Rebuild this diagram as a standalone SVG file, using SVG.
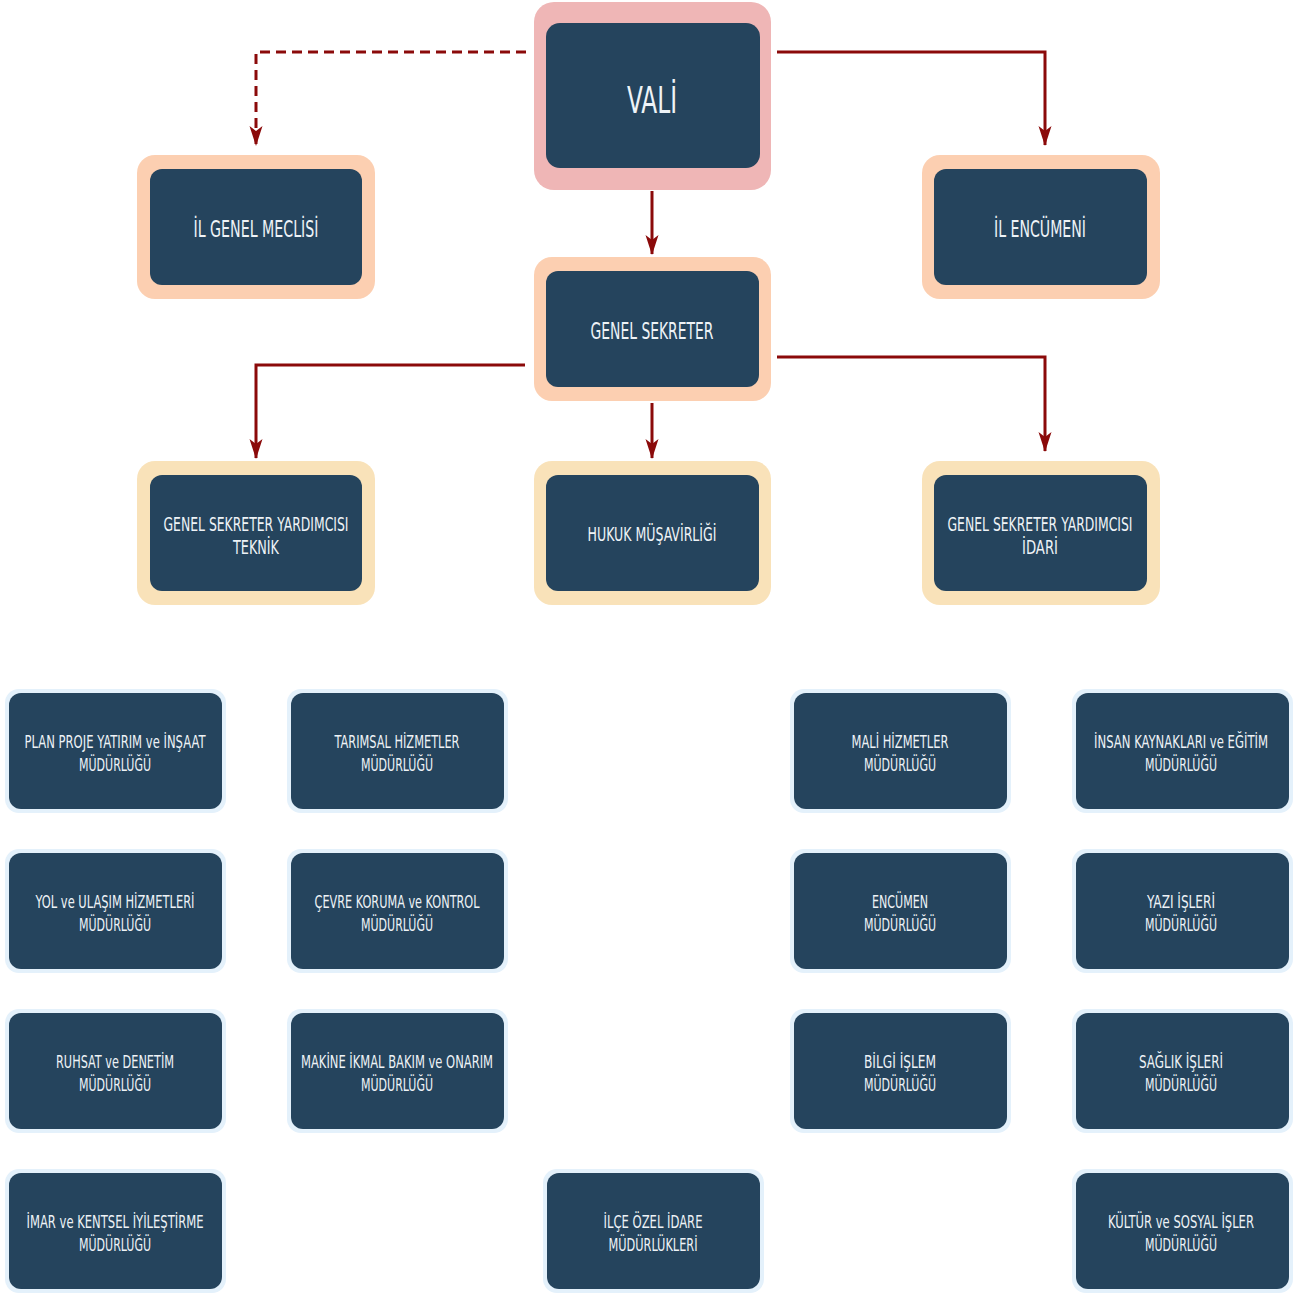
<svg xmlns="http://www.w3.org/2000/svg" width="1299" height="1293" viewBox="0 0 1299 1293">
<defs>
<style>
.box{fill:#25445d}
.pink{fill:#efb6b6}
.peach{fill:#fccfb1}
.yel{fill:#f9e2b9}
.glow{fill:#e4f1fb}
text{font-family:"DejaVu Sans Condensed","DejaVu Sans","Liberation Sans",sans-serif;fill:#eef3f7;text-anchor:middle}
.t1{font-size:38px}
.t2{font-size:23px}
.t3{font-size:19px}
.t4{font-size:18px}
.conn{fill:none;stroke:#8b0a0a;stroke-width:3}
.dash{stroke-dasharray:10,6}
</style>
<marker id="arr" viewBox="0 0 20 14" refX="19" refY="7" markerWidth="20" markerHeight="14" markerUnits="userSpaceOnUse" orient="auto">
<path d="M0,0.5 L20,7 L0,13.5 L5,7 Z" fill="#8b0a0a"/>
</marker>
</defs>
<rect width="1299" height="1293" fill="#ffffff"/>
<g id="connectors">
<path class="conn dash" d="M526,52 H256 V145" marker-end="url(#arr)"/>
<path class="conn" d="M777,52 H1045 V145" marker-end="url(#arr)"/>
<path class="conn" d="M652,191 V254" marker-end="url(#arr)"/>
<path class="conn" d="M525,365 H256 V458" marker-end="url(#arr)"/>
<path class="conn" d="M777,357 H1045 V451" marker-end="url(#arr)"/>
<path class="conn" d="M652,403 V458" marker-end="url(#arr)"/>
</g>
<g id="vali"><rect class="pink" x="534" y="2" width="237" height="188" rx="20"/><rect class="box" x="546" y="23" width="214" height="145" rx="14"/><text class="t1" x="652" y="113" textLength="50" lengthAdjust="spacingAndGlyphs">VALİ</text></g>
<g id="il-genel-meclisi"><rect class="peach" x="137" y="155" width="238" height="144" rx="18"/><rect class="box" x="150" y="169" width="212" height="116" rx="12"/><text class="t2" x="256" y="237" textLength="125" lengthAdjust="spacingAndGlyphs">İL GENEL MECLİSİ</text></g>
<g id="il-encumeni"><rect class="peach" x="922" y="155" width="238" height="144" rx="18"/><rect class="box" x="934" y="169" width="213" height="116" rx="12"/><text class="t2" x="1040" y="237" textLength="92" lengthAdjust="spacingAndGlyphs">İL ENCÜMENİ</text></g>
<g id="genel-sekreter"><rect class="peach" x="534" y="257" width="237" height="144" rx="18"/><rect class="box" x="546" y="271" width="213" height="116" rx="12"/><text class="t2" x="652" y="339" textLength="123" lengthAdjust="spacingAndGlyphs">GENEL SEKRETER</text></g>
<g id="gsy-teknik"><rect class="yel" x="137" y="461" width="238" height="144" rx="18"/><rect class="box" x="150" y="475" width="212" height="116" rx="12"/><text class="t3" x="256" y="531" textLength="185" lengthAdjust="spacingAndGlyphs">GENEL SEKRETER YARDIMCISI</text><text class="t3" x="256" y="554" textLength="46" lengthAdjust="spacingAndGlyphs">TEKNİK</text></g>
<g id="hukuk"><rect class="yel" x="534" y="461" width="237" height="144" rx="18"/><rect class="box" x="546" y="475" width="213" height="116" rx="12"/><text class="t3" x="652" y="541" textLength="129" lengthAdjust="spacingAndGlyphs">HUKUK MÜŞAVİRLİĞİ</text></g>
<g id="gsy-idari"><rect class="yel" x="922" y="461" width="238" height="144" rx="18"/><rect class="box" x="934" y="475" width="213" height="116" rx="12"/><text class="t3" x="1040" y="531" textLength="185" lengthAdjust="spacingAndGlyphs">GENEL SEKRETER YARDIMCISI</text><text class="t3" x="1040" y="554" textLength="36" lengthAdjust="spacingAndGlyphs">İDARİ</text></g>

<g id="plan-proje"><rect class="glow" x="5" y="689" width="221" height="124" rx="14"/><rect class="box" x="9" y="693" width="213" height="116" rx="12"/><text class="t4" x="115" y="748" textLength="181" lengthAdjust="spacingAndGlyphs">PLAN PROJE YATIRIM ve İNŞAAT</text><text class="t4" x="115" y="771" textLength="72" lengthAdjust="spacingAndGlyphs">MÜDÜRLÜĞÜ</text></g>
<g id="tarimsal"><rect class="glow" x="287" y="689" width="221" height="124" rx="14"/><rect class="box" x="291" y="693" width="213" height="116" rx="12"/><text class="t4" x="397" y="748" textLength="125" lengthAdjust="spacingAndGlyphs">TARIMSAL HİZMETLER</text><text class="t4" x="397" y="771" textLength="72" lengthAdjust="spacingAndGlyphs">MÜDÜRLÜĞÜ</text></g>
<g id="mali"><rect class="glow" x="790" y="689" width="221" height="124" rx="14"/><rect class="box" x="794" y="693" width="213" height="116" rx="12"/><text class="t4" x="900" y="748" textLength="97" lengthAdjust="spacingAndGlyphs">MALİ HİZMETLER</text><text class="t4" x="900" y="771" textLength="72" lengthAdjust="spacingAndGlyphs">MÜDÜRLÜĞÜ</text></g>
<g id="insan-kaynaklari"><rect class="glow" x="1072" y="689" width="221" height="124" rx="14"/><rect class="box" x="1076" y="693" width="213" height="116" rx="12"/><text class="t4" x="1181" y="748" textLength="174" lengthAdjust="spacingAndGlyphs">İNSAN KAYNAKLARI ve EĞİTİM</text><text class="t4" x="1181" y="771" textLength="72" lengthAdjust="spacingAndGlyphs">MÜDÜRLÜĞÜ</text></g>

<g id="yol"><rect class="glow" x="5" y="849" width="221" height="124" rx="14"/><rect class="box" x="9" y="853" width="213" height="116" rx="12"/><text class="t4" x="115" y="908" textLength="159" lengthAdjust="spacingAndGlyphs">YOL ve ULAŞIM HİZMETLERİ</text><text class="t4" x="115" y="931" textLength="72" lengthAdjust="spacingAndGlyphs">MÜDÜRLÜĞÜ</text></g>
<g id="cevre"><rect class="glow" x="287" y="849" width="221" height="124" rx="14"/><rect class="box" x="291" y="853" width="213" height="116" rx="12"/><text class="t4" x="397" y="908" textLength="165" lengthAdjust="spacingAndGlyphs">ÇEVRE KORUMA ve KONTROL</text><text class="t4" x="397" y="931" textLength="72" lengthAdjust="spacingAndGlyphs">MÜDÜRLÜĞÜ</text></g>
<g id="encumen"><rect class="glow" x="790" y="849" width="221" height="124" rx="14"/><rect class="box" x="794" y="853" width="213" height="116" rx="12"/><text class="t4" x="900" y="908" textLength="56" lengthAdjust="spacingAndGlyphs">ENCÜMEN</text><text class="t4" x="900" y="931" textLength="72" lengthAdjust="spacingAndGlyphs">MÜDÜRLÜĞÜ</text></g>
<g id="yazi"><rect class="glow" x="1072" y="849" width="221" height="124" rx="14"/><rect class="box" x="1076" y="853" width="213" height="116" rx="12"/><text class="t4" x="1181" y="908" textLength="68" lengthAdjust="spacingAndGlyphs">YAZI İŞLERİ</text><text class="t4" x="1181" y="931" textLength="72" lengthAdjust="spacingAndGlyphs">MÜDÜRLÜĞÜ</text></g>

<g id="ruhsat"><rect class="glow" x="5" y="1009" width="221" height="124" rx="14"/><rect class="box" x="9" y="1013" width="213" height="116" rx="12"/><text class="t4" x="115" y="1068" textLength="118" lengthAdjust="spacingAndGlyphs">RUHSAT ve DENETİM</text><text class="t4" x="115" y="1091" textLength="72" lengthAdjust="spacingAndGlyphs">MÜDÜRLÜĞÜ</text></g>
<g id="makine"><rect class="glow" x="287" y="1009" width="221" height="124" rx="14"/><rect class="box" x="291" y="1013" width="213" height="116" rx="12"/><text class="t4" x="397" y="1068" textLength="192" lengthAdjust="spacingAndGlyphs">MAKİNE İKMAL BAKIM ve ONARIM</text><text class="t4" x="397" y="1091" textLength="72" lengthAdjust="spacingAndGlyphs">MÜDÜRLÜĞÜ</text></g>
<g id="bilgi"><rect class="glow" x="790" y="1009" width="221" height="124" rx="14"/><rect class="box" x="794" y="1013" width="213" height="116" rx="12"/><text class="t4" x="900" y="1068" textLength="72" lengthAdjust="spacingAndGlyphs">BİLGİ İŞLEM</text><text class="t4" x="900" y="1091" textLength="72" lengthAdjust="spacingAndGlyphs">MÜDÜRLÜĞÜ</text></g>
<g id="saglik"><rect class="glow" x="1072" y="1009" width="221" height="124" rx="14"/><rect class="box" x="1076" y="1013" width="213" height="116" rx="12"/><text class="t4" x="1181" y="1068" textLength="84" lengthAdjust="spacingAndGlyphs">SAĞLIK İŞLERİ</text><text class="t4" x="1181" y="1091" textLength="72" lengthAdjust="spacingAndGlyphs">MÜDÜRLÜĞÜ</text></g>

<g id="imar"><rect class="glow" x="5" y="1169" width="221" height="124" rx="14"/><rect class="box" x="9" y="1173" width="213" height="116" rx="12"/><text class="t4" x="115" y="1228" textLength="177" lengthAdjust="spacingAndGlyphs">İMAR ve KENTSEL İYİLEŞTİRME</text><text class="t4" x="115" y="1251" textLength="72" lengthAdjust="spacingAndGlyphs">MÜDÜRLÜĞÜ</text></g>
<g id="ilce"><rect class="glow" x="543" y="1169" width="221" height="124" rx="14"/><rect class="box" x="547" y="1173" width="213" height="116" rx="12"/><text class="t4" x="653" y="1228" textLength="99" lengthAdjust="spacingAndGlyphs">İLÇE ÖZEL İDARE</text><text class="t4" x="653" y="1251" textLength="89" lengthAdjust="spacingAndGlyphs">MÜDÜRLÜKLERİ</text></g>
<g id="kultur"><rect class="glow" x="1072" y="1169" width="221" height="124" rx="14"/><rect class="box" x="1076" y="1173" width="213" height="116" rx="12"/><text class="t4" x="1181" y="1228" textLength="146" lengthAdjust="spacingAndGlyphs">KÜLTÜR ve SOSYAL İŞLER</text><text class="t4" x="1181" y="1251" textLength="72" lengthAdjust="spacingAndGlyphs">MÜDÜRLÜĞÜ</text></g>
</svg>
